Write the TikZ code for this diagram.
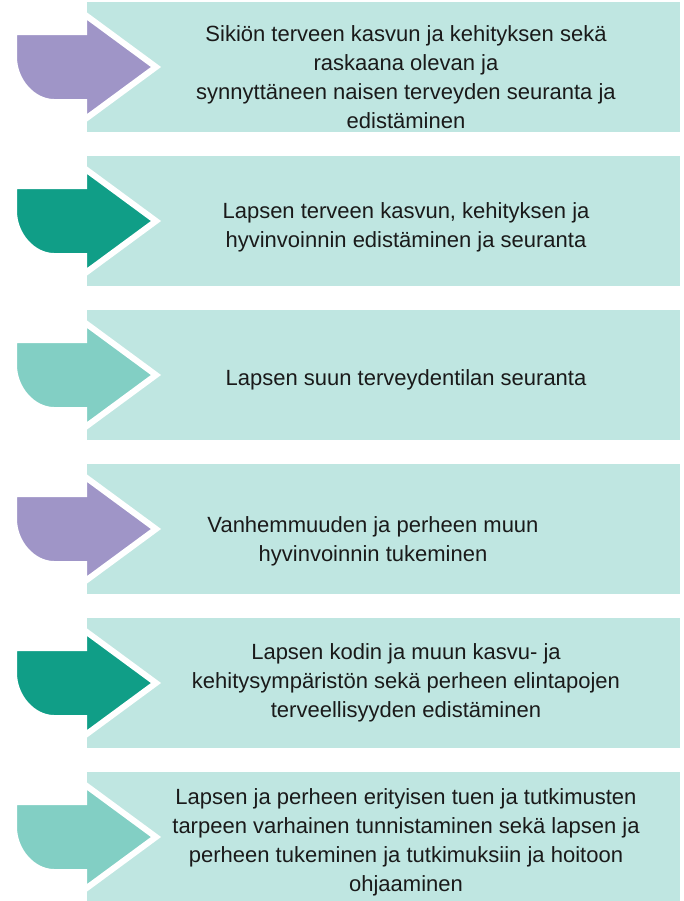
\documentclass[tikz,border=0pt]{standalone}
\usepackage{fontspec}
\setmainfont{Liberation Sans}
\definecolor{lilac}{HTML}{9F95C7}
\definecolor{deepteal}{HTML}{109E87}
\definecolor{paleteal}{HTML}{82CFC4}
\definecolor{boxteal}{HTML}{BFE6E1}
\definecolor{ink}{HTML}{1A1A1A}
\begin{document}
\begin{tikzpicture}[x=0.75pt, y=-0.75pt, line join=miter,
    stepbox/.style={fill=boxteal},
    marker/.style={draw=white, line width=4.5pt},
    goal/.style={text=ink, align=center, inner sep=0pt,
      font=\fontsize{16.5}{21.75}\selectfont}]
    \useasboundingbox (0,0) rectangle (684,901);
    \foreach \i/\col/\tx/\ty/\txt in {
        1/lilac/406/77/{Sikiön terveen kasvun ja kehityksen sekä\\raskaana olevan ja\\synnyttäneen naisen terveyden seuranta ja\\edistäminen},
        2/deepteal/406/227/{Lapsen terveen kasvun, kehityksen ja\\hyvinvoinnin edistäminen ja seuranta},
        3/paleteal/406/380/{Lapsen suun terveydentilan seuranta},
        4/lilac/373/541/{Vanhemmuuden ja perheen muun\\hyvinvoinnin tukeminen},
        5/deepteal/406/683/{Lapsen kodin ja muun kasvu- ja\\kehitysympäristön sekä perheen elintapojen\\terveellisyyden edistäminen},
        6/paleteal/406/842/{Lapsen ja perheen erityisen tuen ja tutkimusten\\tarpeen varhainen tunnistaminen sekä lapsen ja\\perheen tukeminen ja tutkimuksiin ja hoitoon\\ohjaaminen}}
    {
        \pgfmathsetmacro\cy{67+154*(\i-1)}
        \fill[stepbox] (87,\cy-65) rectangle (680,\cy+65);
        % arrow marker with white rim
        \filldraw[marker, fill=\col] (14,\cy-35) -- (84,\cy-35) -- (84,\cy-53)
            -- (156,\cy) -- (84,\cy+53) -- (84,\cy+35) -- (54,\cy+35)
            .. controls (33,\cy+35) and (14,\cy+14) .. (14,\cy-10) -- cycle;
        \node[goal] (goal\i) at (\tx,\ty) {\txt};
    }
\end{tikzpicture}
\end{document}
